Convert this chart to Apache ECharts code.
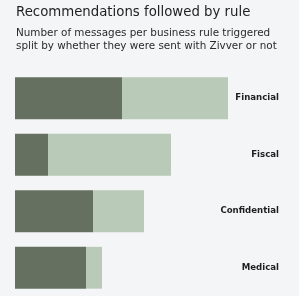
<!DOCTYPE html>
<html><head><meta charset="utf-8">
<script src="https://cdn.jsdelivr.net/npm/echarts@6/dist/echarts.min.js"></script>
<style>html,body{margin:0;padding:0;background:#ffffff;}#c{width:299px;height:296px;}</style>
</head><body><div id="c"></div>
<script>
const categories = ['Financial', 'Fiscal', 'Confidential', 'Medical'];
const sentWithZivver = [107, 33, 78, 71];
const notSentWithZivver = [106, 123, 51, 16];

const chart = echarts.init(document.getElementById('c'), null, {renderer: 'canvas'});
chart.setOption({
  backgroundColor: '#f4f5f7',
  animation: false,
  title: {
    text: 'Recommendations followed by rule',
    subtext: 'Number of messages per business rule triggered\nsplit by whether they were sent with Zivver or not',
    left: 11, top: 0,
    itemGap: 5,
    textStyle: {fontFamily: 'DejaVu Sans', fontSize: 13.3, fontWeight: 'normal', color: '#1f1f1f', lineHeight: 16},
    subtextStyle: {fontFamily: 'DejaVu Sans', fontSize: 10.4, color: '#2a2a2a', lineHeight: 13.8}
  },
  grid: {left: 15, top: 70, width: 225, height: 228, containLabel: false},
  xAxis: {type: 'value', min: 0, max: 225, show: false},
  yAxis: {
    type: 'category', data: categories, inverse: true, position: 'right',
    axisLine: {show: false}, axisTick: {show: false},
    axisLabel: {align: 'right', margin: 39, fontFamily: 'DejaVu Sans', fontWeight: 'bold', fontSize: 8.6, color: '#1f1f1f'}
  },
  series: [
    {name: 'Sent with Zivver', type: 'bar', stack: 'a', data: sentWithZivver, barCategoryGap: '26%',
     itemStyle: {color: '#667060'}},
    {name: 'Not sent with Zivver', type: 'bar', stack: 'a', data: notSentWithZivver,
     itemStyle: {color: '#b9cab8'}}
  ]
});
</script></body></html>
